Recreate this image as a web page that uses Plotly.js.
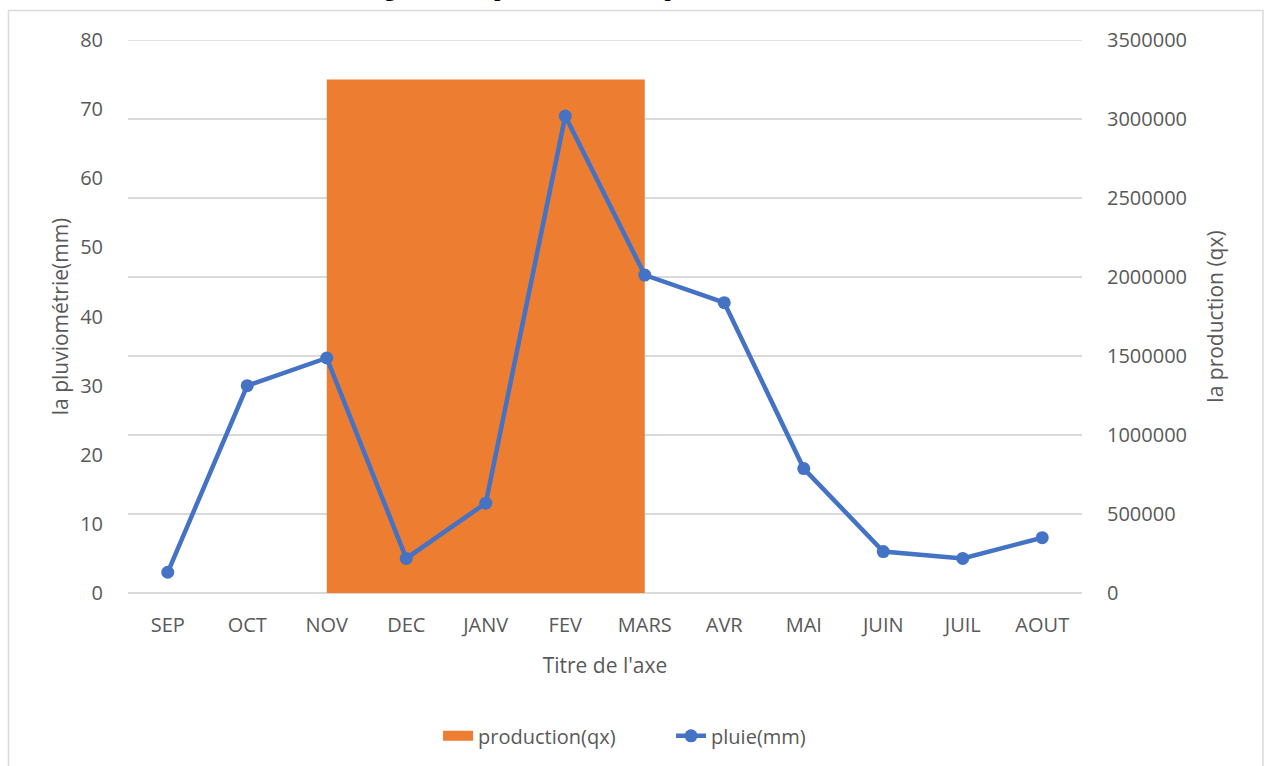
<!DOCTYPE html>
<html>
<head>
<meta charset="utf-8">
<script src="https://cdn.plot.ly/plotly-3.0.1.min.js"></script>
<style>html,body{margin:0;padding:0;background:#fff;}#chart{width:1266px;height:766px;}</style>
</head>
<body>
<div id="chart"></div>
<script>
var months = ["SEP","OCT","NOV","DEC","JANV","FEV","MARS","AVR","MAI","JUIN","JUIL","AOUT"];
var pluie = [3, 30, 34, 5, 13, 69, 46, 42, 18, 6, 5, 8];
var prodMonths = ["JANV"];
var production = [3250000];
var prodTicks = [0, 500000, 1000000, 1500000, 2000000, 2500000, 3000000, 3500000];
var pluieTicks = [0, 10, 20, 30, 40, 50, 60, 70, 80];
var titleText = "Figure 11 : la pluviométrie et la production en 2020";

var FONT = "'Open Sans', Lato, sans-serif";
var GREY = "#595959";
var ORANGE = "#ED7D31";
var BLUE = "#4472C4";
var PROD_MAX = prodTicks[prodTicks.length - 1];

var traces = [
  {
    type: "bar", name: "production(qx)", x: prodMonths, y: production,
    width: 4, marker: {color: ORANGE}, xaxis: "x", yaxis: "y", showlegend: false
  },
  {
    type: "scatter", mode: "lines", name: "production(qx)", x: [null], y: [null],
    line: {color: ORANGE, width: 14}, xaxis: "x", yaxis: "y", showlegend: true
  },
  {
    type: "scatter", mode: "lines+markers", name: "pluie(mm)", x: months, y: pluie,
    line: {color: BLUE, width: 4.5}, marker: {color: BLUE, size: 13},
    xaxis: "x", yaxis: "y2"
  }
];

var layout = {
  width: 1266, height: 766,
  margin: {l: 128, r: 184, t: 40, b: 172, pad: 0},
  paper_bgcolor: "#fff", plot_bgcolor: "#fff",
  font: {family: FONT, color: GREY, size: 20},
  showlegend: true,
  legend: {orientation: "h", x: 0.325, xanchor: "left", y: -0.256, yanchor: "middle",
           font: {size: 20, color: GREY}, traceorder: "normal", entrywidth: 188},
  xaxis: {
    type: "category", categoryorder: "array", categoryarray: months,
    range: [-0.5, 11.5], showgrid: false, zeroline: false, showline: false,
    ticks: "outside", ticklen: 14, tickcolor: "rgba(0,0,0,0)",
    tickfont: {size: 20, color: GREY},
    title: {text: "Titre de l'axe", font: {size: 21, color: GREY}, standoff: 21}
  },
  yaxis: {
    side: "right", range: [0, PROD_MAX], tickvals: prodTicks,
    ticktext: prodTicks.map(String),
    showgrid: true, gridcolor: "#d9d9d9", gridwidth: 1.5,
    zeroline: true, zerolinecolor: "#d9d9d9", zerolinewidth: 1.5,
    showline: false, ticks: "outside", ticklen: 20, tickcolor: "rgba(0,0,0,0)",
    tickfont: {size: 20, color: GREY},
    title: {text: "la production (qx)", font: {size: 21, color: GREY}, standoff: 22}
  },
  yaxis2: {
    overlaying: "y", side: "left", range: [0, 80], tickvals: pluieTicks,
    showgrid: false, zeroline: false, showline: false,
    ticks: "outside", ticklen: 20, tickcolor: "rgba(0,0,0,0)",
    tickfont: {size: 20, color: GREY},
    title: {text: "la pluviométrie(mm)", font: {size: 21, color: GREY}, standoff: 5}
  },
  shapes: [
    {type: "rect", xref: "paper", yref: "paper", x0: -0.1253, x1: 1.1897, y0: -0.32, y1: 1.0533,
     line: {color: "#d9d9d9", width: 1.5}, fillcolor: "rgba(0,0,0,0)", layer: "below"},
    {type: "line", xref: "paper", yref: "y", x0: 0, x1: 1, y0: PROD_MAX, y1: PROD_MAX,
     line: {color: "#d9d9d9", width: 1.5}, layer: "below"}
  ],
  annotations: [
    {text: "<b>" + titleText + "</b>", xref: "paper", yref: "paper", x: 0.5, y: 1.067,
     xanchor: "center", yanchor: "bottom", showarrow: false,
     font: {family: "'Liberation Serif', 'Times New Roman', serif", size: 22, color: "#000"}}
  ]
};

Plotly.newPlot("chart", traces, layout, {displayModeBar: false, staticPlot: true});
</script>
</body>
</html>
